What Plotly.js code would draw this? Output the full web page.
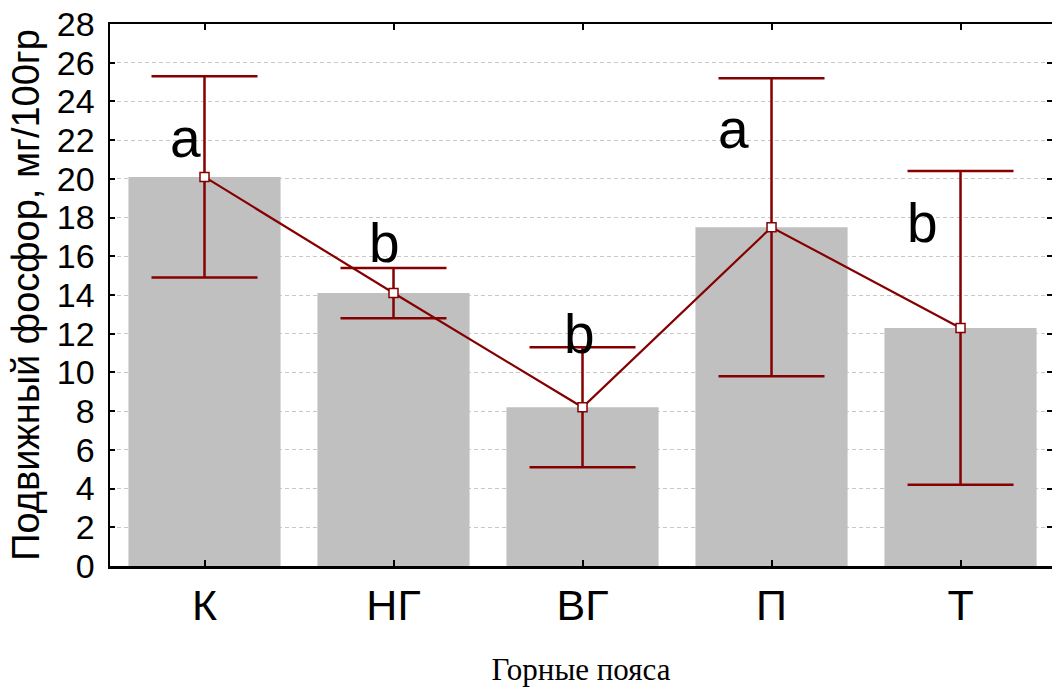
<!DOCTYPE html>
<html>
<head>
<meta charset="utf-8">
<script src="https://cdn.plot.ly/plotly-3.0.1.min.js"></script>
<style>
  html, body { margin: 0; padding: 0; background: #fff; }
  #chart { width: 1052px; height: 687px; }
</style>
</head>
<body>
<div id="chart"></div>
<script>
// Mountain belts and mobile phosphorus content (mean ± interval)
const belts = ['К', 'НГ', 'ВГ', 'П', 'Т'];
const phosphorusMean = [20.1, 14.1, 8.2, 17.5, 12.3];
const phosphorusErr = [5.2, 1.3, 3.1, 7.7, 8.1];
const groupLetters = ['a', 'b', 'b', 'a', 'b'];

const darkRed = '#850000';
const tickFont = { family: 'Liberation Sans, Arial, sans-serif', size: 34, color: '#000' };

const bars = {
  type: 'bar',
  x: belts,
  y: phosphorusMean,
  marker: { color: '#c0c0c0', line: { width: 0 } },
  hoverinfo: 'skip',
  showlegend: false
};

const meanLine = {
  type: 'scatter',
  mode: 'lines+markers',
  x: belts,
  y: phosphorusMean,
  line: { color: darkRed, width: 2.2 },
  marker: { symbol: 'square', size: 9, color: '#ffffff', line: { color: darkRed, width: 1.5 } },
  error_y: { type: 'data', array: phosphorusErr, visible: true, color: darkRed, thickness: 2.5, width: 53 },
  showlegend: false
};

// placement of the group letters beside each mean (x shift in px, y in data units)
const letterPlacement = [
  { dx: -19, y: 22.1 },
  { dx: -9, y: 16.7 },
  { dx: -3, y: 12.0 },
  { dx: -38, y: 22.6 },
  { dx: -38, y: 17.7 }
];

const annotations = groupLetters.map((t, i) => ({
  x: belts[i],
  y: letterPlacement[i].y,
  xref: 'x', yref: 'y',
  text: t,
  showarrow: false,
  xshift: letterPlacement[i].dx,
  xanchor: 'center', yanchor: 'middle',
  font: { family: 'Liberation Sans, Arial, sans-serif', size: 55, color: '#000' }
}));

const layout = {
  width: 1052,
  height: 687,
  margin: { l: 110, r: 0, t: 24, b: 121 },
  paper_bgcolor: '#fff',
  plot_bgcolor: '#fff',
  bargap: 0.195,
  annotations: annotations,
  xaxis: {
    type: 'category',
    range: [-0.5, 4.484],
    showline: true, linecolor: '#000', linewidth: 2.5, mirror: 'ticks',
    ticks: 'inside', ticklen: 6, tickwidth: 2, tickcolor: '#000',
    showgrid: false, zeroline: false,
    tickfont: { family: 'Liberation Sans, Arial, sans-serif', size: 43, color: '#000' },
    title: {
      text: 'Горные пояса',
      font: { family: 'Liberation Serif, Times New Roman, serif', size: 31, color: '#000' },
      standoff: 38
    }
  },
  yaxis: {
    range: [0, 28],
    tickvals: [0, 2, 4, 6, 8, 10, 12, 14, 16, 18, 20, 22, 24, 26, 28],
    showline: true, linecolor: '#000', linewidth: 2.5, mirror: 'ticks',
    ticks: 'inside', ticklen: 5, tickwidth: 2, tickcolor: '#000',
    showgrid: true, gridcolor: '#c8c8c8', gridwidth: 1, griddash: '4px,3px',
    zeroline: false,
    tickfont: tickFont,
    ticklabelstandoff: 6,
    title: {
      text: 'Подвижный фосфор, мг/100гр',
      font: { family: 'Liberation Sans, Arial, sans-serif', size: 38, color: '#000' },
      standoff: 6
    }
  }
};

Plotly.newPlot('chart', [bars, meanLine], layout, { displayModeBar: false, staticPlot: true });
</script>
</body>
</html>
